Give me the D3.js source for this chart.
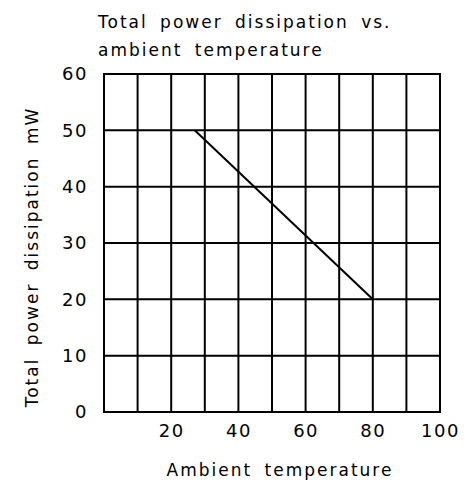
<!DOCTYPE html>
<html>
<head>
<meta charset="utf-8">
<script src="https://cdn.jsdelivr.net/npm/d3@7"></script>
<style>
  body { margin: 0; background: #fff; }
  text { font-family: "DejaVu Sans", sans-serif; fill: #000; }
</style>
</head>
<body>
<div id="chart"></div>
<script>
// Data
var temperature = [27, 80];
var power = [50, 20];
var xTicks = [20, 40, 60, 80, 100];
var yTicks = [0, 10, 20, 30, 40, 50, 60];
var xGrid = [10, 20, 30, 40, 50, 60, 70, 80, 90];

var margin = {top: 74, right: 35, bottom: 85, left: 104};
var width = 475 - margin.left - margin.right;
var height = 497 - margin.top - margin.bottom;

var svg = d3.select("#chart").append("svg")
    .attr("width", 475)
    .attr("height", 497);

var g = svg.append("g")
    .attr("transform", "translate(" + margin.left + "," + margin.top + ")");

var x = d3.scaleLinear().domain([0, 100]).range([0, width]);
var y = d3.scaleLinear().domain([0, 60]).range([height, 0]);

// grid
g.selectAll(".vgrid").data(xGrid).enter().append("line")
    .attr("x1", function(d) { return x(d); })
    .attr("x2", function(d) { return x(d); })
    .attr("y1", 0).attr("y2", height)
    .attr("stroke", "#000").attr("stroke-width", 2);

g.selectAll(".hgrid").data(yTicks.slice(1, -1)).enter().append("line")
    .attr("y1", function(d) { return y(d); })
    .attr("y2", function(d) { return y(d); })
    .attr("x1", 0).attr("x2", width)
    .attr("stroke", "#000").attr("stroke-width", 2);

g.append("rect")
    .attr("width", width).attr("height", height)
    .attr("fill", "none").attr("stroke", "#000").attr("stroke-width", 2);

// axes labels via d3 axes (no lines)
var xAxis = d3.axisBottom(x).tickValues(xTicks).tickSize(0).tickPadding(12);
var yAxis = d3.axisLeft(y).tickValues(yTicks).tickSize(0).tickPadding(16);

var gx = g.append("g").attr("transform", "translate(0," + height + ")").call(xAxis);
var gy = g.append("g").call(yAxis);
[gx, gy].forEach(function(a) {
    a.select(".domain").remove();
    a.selectAll("text")
        .style("font-family", "DejaVu Sans, sans-serif")
        .style("font-size", "18px")
        .style("letter-spacing", "1.5px")
        .attr("fill", "#000");
});

// the line
var valueline = d3.line()
    .x(function(d, i) { return x(temperature[i]); })
    .y(function(d) { return y(d); });

g.append("path")
    .attr("d", valueline(power))
    .attr("fill", "none")
    .attr("stroke", "#000")
    .attr("stroke-width", 2);

// titles
function label(t) {
    return t.style("font-size", "17px")
        .style("letter-spacing", "2px")
        .style("word-spacing", "5px");
}
label(svg.append("text").attr("x", 98).attr("y", 28))
    .text("Total power dissipation vs.");
label(svg.append("text").attr("x", 98).attr("y", 56))
    .text("ambient temperature");

label(svg.append("text")
    .attr("x", 280).attr("y", 476)
    .attr("text-anchor", "middle"))
    .text("Ambient temperature");

label(svg.append("text")
    .attr("transform", "translate(38,257) rotate(-90)")
    .attr("text-anchor", "middle"))
    .text("Total power dissipation mW");
</script>
</body>
</html>
